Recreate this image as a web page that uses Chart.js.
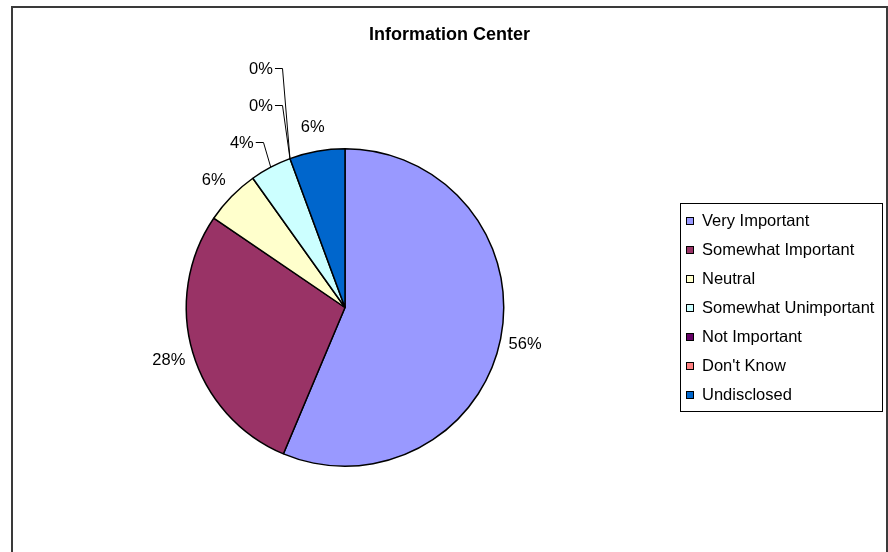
<!DOCTYPE html>
<html>
<head>
<meta charset="utf-8">
<script src="https://cdn.jsdelivr.net/npm/chart.js@4.4.1/dist/chart.umd.min.js"></script>
<style>
  html, body { margin: 0; padding: 0; background: #fff; }
  body { width: 888px; height: 552px; position: relative; overflow: hidden;
         font-family: "Liberation Sans", Arial, sans-serif; }
  #frame { position: absolute; left: 11px; top: 6px; width: 877px; height: 600px;
           border: 2px solid #3a3a3a; box-sizing: border-box; }
  #pie { position: absolute; left: 0; top: 0; }
  #title { position: absolute; left: 11px; width: 877px; top: 24px; line-height: 20px;
           text-align: center; font-weight: bold; font-size: 18px; color: #000; }
  #legend { position: absolute; left: 680px; top: 203px; width: 203px; height: 209px;
            border: 1px solid #000; box-sizing: border-box; padding-top: 2px; }
  .item { height: 29px; line-height: 29px; font-size: 16.5px; color: #000; white-space: nowrap; }
  .swatch { display: inline-block; width: 6px; height: 6px; border: 1px solid #000;
            margin: 0 8px 0 5px; vertical-align: middle; position: relative; top: -1px; }
</style>
</head>
<body>
<div id="frame"></div>
<canvas id="pie" width="888" height="552"></canvas>
<div id="title">Information Center</div>
<div id="legend"></div>
<script>
  // responses per answer (71 total)
  const CATEGORIES = ["Very Important", "Somewhat Important", "Neutral", "Somewhat Unimportant",
                      "Not Important", "Don't Know", "Undisclosed"];
  const VALUES = [40, 20, 4, 3, 0, 0, 4];
  const COLORS = ["#9999FF", "#993366", "#FFFFCC", "#CCFFFF", "#660066", "#FF8080", "#0066CC"];

  const LABEL_FONT = '16.5px "Liberation Sans", Arial, sans-serif';
  const LABEL_GAP = 37;

  // legend
  const legend = document.getElementById("legend");
  CATEGORIES.forEach(function (name, i) {
    const row = document.createElement("div");
    row.className = "item";
    const sw = document.createElement("span");
    sw.className = "swatch";
    sw.style.background = COLORS[i];
    row.appendChild(sw);
    row.appendChild(document.createTextNode(name));
    legend.appendChild(row);
  });

  const sliceLabels = {
    id: "sliceLabels",
    afterDatasetsDraw(chart) {
      const ctx = chart.ctx;
      const meta = chart.getDatasetMeta(0);
      const total = VALUES.reduce((a, b) => a + b, 0);
      ctx.save();
      ctx.font = LABEL_FONT;

      const items = meta.data.map(function (arc, i) {
        const p = arc.getProps(["x", "y", "startAngle", "endAngle", "outerRadius"], true);
        const mid = (p.startAngle + p.endAngle) / 2;
        const text = Math.round(VALUES[i] / total * 100) + "%";
        const w = ctx.measureText(text).width;
        return {
          text, w,
          cx: p.x + Math.cos(mid) * (p.outerRadius + 25),
          cy: p.y + Math.sin(mid) * (p.outerRadius + 25),
          ax: p.x + Math.cos(mid) * p.outerRadius,
          ay: p.y + Math.sin(mid) * p.outerRadius,
          left: Math.cos(mid) < 0,
          moved: false
        };
      });

      // left side labels, bottom to top: push up the ones that crowd the previous label
      let prev = null;
      items.forEach(function (it) {
        if (!it.left) return;
        if (prev) {
          const hGap = Math.max((it.cx - it.w / 2) - (prev.cx + prev.w / 2),
                                (prev.cx - prev.w / 2) - (it.cx + it.w / 2));
          if (hGap < 25 && Math.abs(it.cy - prev.cy) < LABEL_GAP) {
            it.cy = prev.cy - LABEL_GAP;
            it.cx = it.ax - 17 - it.w / 2;
            it.moved = true;
          }
        }
        prev = it;
      });

      ctx.fillStyle = "#000";
      ctx.strokeStyle = "#000";
      ctx.lineWidth = 1;
      ctx.textAlign = "center";
      ctx.textBaseline = "middle";
      items.forEach(function (it) {
        ctx.fillText(it.text, it.cx, it.cy + 1);
        if (it.moved) {
          const elbowX = Math.round(it.ax - 8) + 0.5;
          const y = Math.round(it.cy) + 0.5;
          ctx.beginPath();
          ctx.moveTo(it.ax, it.ay);
          ctx.lineTo(elbowX, y);
          ctx.lineTo(it.cx + it.w / 2 + 2, y);
          ctx.stroke();
        }
      });
      ctx.restore();
    }
  };

  new Chart(document.getElementById("pie"), {
    type: "pie",
    data: {
      labels: CATEGORIES,
      datasets: [{
        data: VALUES,
        backgroundColor: COLORS,
        borderColor: "#000",
        borderWidth: 1.5,
        borderJoinStyle: "bevel"
      }]
    },
    options: {
      responsive: false,
      animation: false,
      events: [],
      layout: { padding: { left: 185, right: 383, top: 148, bottom: 85 } },
      plugins: {
        legend: { display: false },
        title: { display: false },
        tooltip: { enabled: false }
      }
    },
    plugins: [sliceLabels]
  });
</script>
</body>
</html>
